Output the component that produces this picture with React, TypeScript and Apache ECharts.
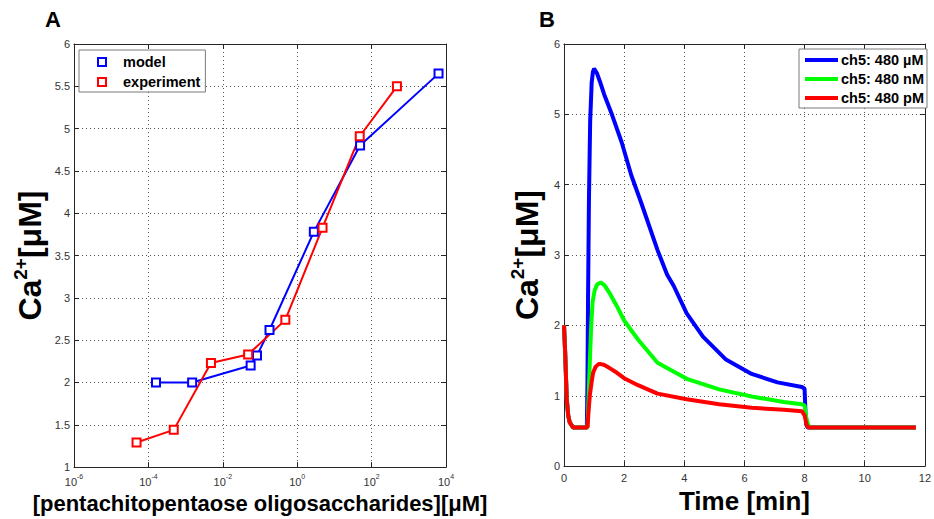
import React, { useEffect, useRef } from "react";
import * as echarts from "echarts";

const FONT = "'Liberation Sans', Arial, Helvetica, sans-serif";

// ---------- Panel A: dose response (concentration in µM, Ca2+ in µM) ----------
const modelConc = [1.6e-4, 1.5e-3, 0.056, 0.083, 0.18, 2.8, 49, 6300];
const modelCa = [2.0, 2.0, 2.2, 2.32, 2.62, 3.78, 4.8, 5.65];
const expConc = [4.8e-5, 4.8e-4, 4.8e-3, 0.048, 0.48, 4.8, 48, 480];
const expCa = [1.29, 1.44, 2.23, 2.33, 2.74, 3.83, 4.91, 5.5];
const logExpMin = -6;
const logExpMax = 4;

// ---------- Panel B: time courses (min, µM) ----------
const tMicro = [0, 0.04, 0.09, 0.14, 0.19, 0.3, 0.76, 0.78, 0.8, 0.83, 0.87, 0.92, 0.96, 1.0, 1.1, 1.2, 1.33, 1.6, 1.92, 2.24, 2.57, 3.11, 3.43, 3.65, 4.08, 4.62, 5.37, 6.24, 7.1, 7.91, 8.0, 8.03, 8.06, 8.1, 11.7];
const caMicro = [2.0, 1.6, 0.96, 0.72, 0.62, 0.55, 0.55, 1.2, 2.4, 3.8, 4.9, 5.45, 5.6, 5.65, 5.58, 5.46, 5.29, 4.99, 4.6, 4.13, 3.74, 3.07, 2.72, 2.56, 2.17, 1.84, 1.52, 1.31, 1.19, 1.125, 1.1, 0.75, 0.59, 0.55, 0.55];
const tNano = [0, 0.04, 0.09, 0.14, 0.19, 0.3, 0.78, 0.82, 0.86, 0.9, 0.95, 1.02, 1.1, 1.22, 1.35, 1.5, 1.75, 2.0, 2.46, 3.11, 4.08, 5.16, 6.24, 7.31, 7.91, 8.0, 8.05, 8.12, 8.2, 11.7];
const caNano = [2.0, 1.6, 0.96, 0.72, 0.62, 0.55, 0.55, 1.0, 1.5, 1.95, 2.33, 2.5, 2.58, 2.61, 2.57, 2.47, 2.28, 2.07, 1.8, 1.47, 1.24, 1.09, 0.99, 0.91, 0.88, 0.86, 0.7, 0.58, 0.55, 0.55];
const tPico = [0, 0.04, 0.09, 0.14, 0.19, 0.3, 0.78, 0.82, 0.86, 0.92, 0.97, 1.05, 1.15, 1.22, 1.32, 1.49, 1.75, 2.0, 2.46, 3.11, 4.08, 5.16, 6.24, 7.31, 7.91, 8.0, 8.07, 8.13, 11.7];
const caPico = [2.0, 1.6, 0.96, 0.72, 0.62, 0.55, 0.55, 0.8, 1.01, 1.2, 1.33, 1.41, 1.45, 1.45, 1.44, 1.4, 1.33, 1.25, 1.15, 1.03, 0.95, 0.88, 0.83, 0.8, 0.78, 0.72, 0.58, 0.55, 0.55];

const seriesNamesB = ["ch5: 480 µM", "ch5: 480 nM", "ch5: 480 pM"];

const AX = "#262626";
const LBL = "#333";
const gridLine = { show: true, lineStyle: { color: "#555", width: 1, type: [1, 3] as any } };
const tick = { show: true, inside: true, length: 5, lineStyle: { color: AX } };
const axLine = { show: true, onZero: false, lineStyle: { color: AX, width: 1 } };

const yName = {
  fontFamily: FONT,
  color: "#000",
  rich: {
    b: { fontFamily: FONT, fontSize: 32, fontWeight: "bold", color: "#000", lineHeight: 35, verticalAlign: "bottom" },
    s: { fontFamily: FONT, fontSize: 19, fontWeight: "bold", color: "#000", lineHeight: 20, verticalAlign: "top" },
  },
};

const legendText = { fontFamily: FONT, fontSize: 14.5, fontWeight: "bold", color: "#000", lineHeight: 16 };

export default function App() {
  const ref = useRef<HTMLDivElement>(null);
  useEffect(() => {
    if (!ref.current) return;
    const chart = echarts.init(ref.current, null, { renderer: "svg" });
    const zip = (a: number[], b: number[]) => a.map((x, i) => [x, b[i]]);
    const zipLog = (a: number[], b: number[]) => a.map((x, i) => [Math.log10(x), b[i]]);

    const option: any = {
      animation: false,
      backgroundColor: "#fff",
      textStyle: { fontFamily: FONT },
      title: [
        { text: "A", left: 45, top: 8, padding: 0, textStyle: { fontFamily: FONT, fontSize: 22, fontWeight: "bold", color: "#000" } },
        { text: "B", left: 539, top: 8, padding: 0, textStyle: { fontFamily: FONT, fontSize: 22, fontWeight: "bold", color: "#000" } },
      ],
      grid: [
        { left: 74, top: 44, width: 372, height: 433 },
        { left: 564, top: 44, width: 371, height: 432 },
      ],
      legend: [
        {
          left: 79, top: 50, orient: "vertical",
          data: [
            { name: "model", icon: "emptyRect" },
            { name: "experiment", icon: "emptyRect" },
          ],
          itemWidth: 8, itemHeight: 8, itemGap: 4,
          padding: [4, 5, 2, 18],
          backgroundColor: "#fff", borderColor: "#7a7a7a", borderWidth: 1,
          textStyle: { ...legendText, padding: [0, 0, 0, 12] },
        },
        {
          left: 799, top: 49, orient: "vertical",
          data: seriesNamesB.map((n) => ({ name: n, icon: "rect" })),
          itemWidth: 33, itemHeight: 4, itemGap: 3,
          padding: [3, 3, 2, 6],
          backgroundColor: "#fff", borderColor: "#7a7a7a", borderWidth: 1,
          textStyle: { ...legendText, padding: [0, 0, 0, -2] },
        },
      ],
      xAxis: [
        {
          gridIndex: 0, type: "value", min: logExpMin, max: logExpMax, interval: 2,
          axisLine: axLine, axisTick: tick, splitLine: gridLine,
          axisLabel: {
            margin: 6, color: LBL,
            formatter: (v: number) => `{b|10}{s|${v}}`,
            rich: {
              b: { fontFamily: FONT, fontSize: 11, color: LBL, verticalAlign: "bottom", lineHeight: 14 },
              s: { fontFamily: FONT, fontSize: 7, color: LBL, verticalAlign: "top", lineHeight: 8 },
            },
          },
          name: "[pentachitopentaose oligosaccharides][μM]", nameLocation: "middle", nameGap: 20,
          nameTextStyle: { fontFamily: FONT, fontSize: 22, fontWeight: "bold", color: "#000" },
        },
        {
          gridIndex: 0, type: "value", position: "top", min: logExpMin, max: logExpMax, interval: 2,
          axisLine: axLine, axisTick: tick, splitLine: { show: false }, axisLabel: { show: false },
        },
        {
          gridIndex: 1, type: "value", min: 0, max: 12, interval: 2,
          axisLine: axLine, axisTick: tick, splitLine: gridLine,
          axisLabel: { margin: 6, color: LBL, fontFamily: FONT, fontSize: 11 },
          name: "Time [min]", nameLocation: "middle", nameGap: 18,
          nameTextStyle: { fontFamily: FONT, fontSize: 26, fontWeight: "bold", color: "#000" },
        },
        {
          gridIndex: 1, type: "value", position: "top", min: 0, max: 12, interval: 2,
          axisLine: axLine, axisTick: tick, splitLine: { show: false }, axisLabel: { show: false },
        },
      ],
      yAxis: [
        {
          gridIndex: 0, type: "value", min: 1, max: 6, interval: 0.5,
          axisLine: axLine, axisTick: tick, splitLine: gridLine,
          axisLabel: { margin: 4, color: LBL, fontFamily: FONT, fontSize: 11 },
          name: "{b|Ca}{s|2+}{b|[μM]}", nameLocation: "middle", nameGap: 28, nameRotate: 90,
          nameTextStyle: yName,
        },
        {
          gridIndex: 0, type: "value", position: "right", min: 1, max: 6, interval: 0.5,
          axisLine: axLine, axisTick: tick, splitLine: { show: false }, axisLabel: { show: false },
        },
        {
          gridIndex: 1, type: "value", min: 0, max: 6, interval: 1,
          axisLine: axLine, axisTick: tick, splitLine: gridLine,
          axisLabel: { margin: 4, color: LBL, fontFamily: FONT, fontSize: 11 },
          name: "{b|Ca}{s|2+}{b|[μM]}", nameLocation: "middle", nameGap: 21, nameRotate: 90,
          nameTextStyle: yName,
        },
        {
          gridIndex: 1, type: "value", position: "right", min: 0, max: 6, interval: 1,
          axisLine: axLine, axisTick: tick, splitLine: { show: false }, axisLabel: { show: false },
        },
      ],
      series: [
        {
          name: "model", type: "line", xAxisIndex: 0, yAxisIndex: 0,
          data: zipLog(modelConc, modelCa),
          symbol: "emptyRect", symbolSize: 8,
          itemStyle: { color: "#0000ff", borderWidth: 2 },
          lineStyle: { color: "#0000ff", width: 2 },
        },
        {
          name: "experiment", type: "line", xAxisIndex: 0, yAxisIndex: 0,
          data: zipLog(expConc, expCa),
          symbol: "emptyRect", symbolSize: 8,
          itemStyle: { color: "#ff0000", borderWidth: 2 },
          lineStyle: { color: "#ff0000", width: 2 },
        },
        {
          name: seriesNamesB[0], type: "line", xAxisIndex: 2, yAxisIndex: 2,
          data: zip(tMicro, caMicro), showSymbol: false, symbol: "none",
          itemStyle: { color: "#0000ff" }, lineStyle: { color: "#0000ff", width: 4 },
        },
        {
          name: seriesNamesB[1], type: "line", xAxisIndex: 2, yAxisIndex: 2,
          data: zip(tNano, caNano), showSymbol: false, symbol: "none",
          itemStyle: { color: "#00ff00" }, lineStyle: { color: "#00ff00", width: 4 },
        },
        {
          name: seriesNamesB[2], type: "line", xAxisIndex: 2, yAxisIndex: 2,
          data: zip(tPico, caPico), showSymbol: false, symbol: "none",
          itemStyle: { color: "#ff0000" }, lineStyle: { color: "#ff0000", width: 4 },
        },
      ],
    };
    chart.setOption(option);
    return () => chart.dispose();
  }, []);
  return (
    <div
      ref={ref}
      style={{ position: "fixed", left: 0, top: 0, width: 934, height: 519, overflow: "hidden", background: "#fff" }}
    />
  );
}
